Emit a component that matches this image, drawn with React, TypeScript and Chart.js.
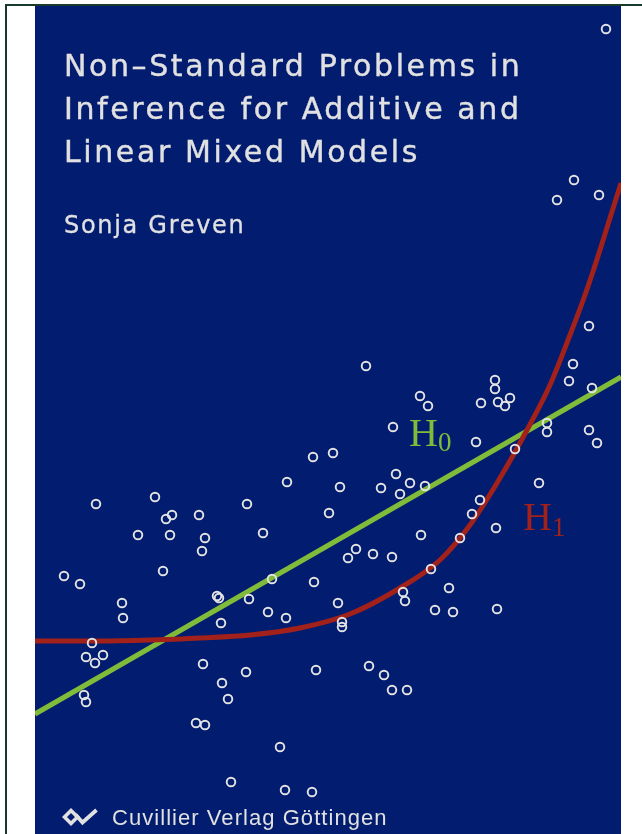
import React, { useEffect, useRef } from "react";
import { Chart, registerables } from "chart.js";

Chart.register(...registerables);

// ---- data (x: horizontal units, y: vertical units; 1 unit = 10 px of the cover panel) ----
const xRange = [0, 58.6];
const yRange = [0, 82.8];

const sampleX = [
  6.1, 12.0, 13.7, 13.1, 16.4, 21.2, 29.4, 10.3, 13.5, 17.0, 22.8, 16.7, 2.9, 4.5, 12.8, 8.7, 8.8,
  18.2, 18.4, 23.7, 27.9, 21.4, 23.3, 25.1, 18.6, 30.3, 5.7, 5.1, 6.8, 6.0, 4.9, 5.1, 16.8, 21.1,
  28.1, 18.7, 19.3, 16.1, 17.0, 24.5, 19.6, 25.0, 27.7, 30.7, 30.7, 33.1, 38.5, 39.3, 35.8, 46.0,
  46.0, 44.6, 46.3, 47.5, 47.0, 53.8, 53.4, 55.7, 51.2, 51.2, 55.4, 56.2, 44.1, 48.0, 27.8, 29.8,
  30.5, 36.1, 34.6, 37.5, 36.5, 39.0, 50.4, 44.5, 43.7, 46.1, 38.6, 42.5, 32.1, 31.3, 33.8, 35.7,
  39.6, 41.4, 36.8, 37.0, 40.0, 41.8, 46.2, 33.4, 34.9, 35.7, 37.2, 57.1, 53.9, 52.2, 56.4, 55.4,
  25.2,
];
const sampleY = [
  33.0, 33.7, 31.9, 31.5, 31.9, 33.0, 32.1, 29.9, 29.9, 29.6, 30.1, 28.3, 25.8, 25.0, 26.3, 23.1, 21.6,
  23.8, 23.6, 25.5, 25.2, 23.5, 22.2, 21.6, 21.1, 23.1, 19.1, 17.7, 17.9, 17.1, 13.9, 13.2, 17.0, 16.2,
  16.4, 15.1, 13.5, 11.1, 10.9, 8.7, 5.2, 4.4, 4.2, 21.2, 20.7, 46.8, 43.8, 42.8, 40.7, 45.4,
  44.5, 43.1, 43.2, 43.6, 42.8, 47.0, 45.3, 44.6, 41.1, 40.2, 40.4, 39.1, 39.2, 38.5, 37.7, 38.1,
  34.7, 36.0, 34.6, 35.1, 34.0, 34.8, 35.1, 33.4, 32.0, 30.6, 29.9, 29.6, 28.5, 27.6, 28.0, 27.7,
  26.5, 24.6, 24.2, 23.3, 22.4, 22.2, 22.5, 16.8, 15.9, 14.4, 14.4, 80.5, 65.4, 63.4, 63.9, 50.8,
  35.2,
];

// H0: straight line fit
const h0X = [0, 58.6];
const h0Y = [12.0, 45.7];

// H1: smooth curve fit
const h1X = [0, 6.5, 11.5, 16.5, 21.5, 26.5, 31.5, 36.5, 40.5, 43.5, 46.5, 49.2, 51.5, 53.5, 55.0, 56.5, 57.5, 58.6];
const h1Y = [19.3, 19.3, 19.4, 19.6, 19.9, 20.6, 22.0, 24.6, 27.4, 30.9, 35.6, 40.4, 44.9, 49.9, 53.9, 58.4, 61.6, 65.1];

const titleLines = ["Non–Standard Problems in", "Inference for Additive and", "Linear Mixed Models"];
const authorName = "Sonja Greven";
const publisherName = "Cuvillier Verlag Göttingen";
const h0Label = ["H", "0"];
const h1Label = ["H", "1"];

const BLUE = "#021c6f";
const FRAME = "#173a2c";
const GREEN = "#80bc3a";
const RED = "#a2211a";
const CIRCLE = "#e4e4e4";
const TEXT = "#e1e1e1";

const coverPlugin = {
  id: "coverBackground",
  beforeDraw(chart: any) {
    const { ctx, chartArea } = chart;
    ctx.save();
    ctx.fillStyle = "#ffffff";
    ctx.fillRect(0, 0, chart.width, chart.height);
    ctx.fillStyle = BLUE;
    ctx.fillRect(chartArea.left, chartArea.top, chartArea.right - chartArea.left, chartArea.bottom - chartArea.top);
    ctx.fillStyle = FRAME;
    ctx.fillRect(5, 4, chart.width - 5, 2);
    ctx.fillRect(5, 4, 2, chart.height - 4);
    ctx.restore();
  },
};

const toXY = (xs: number[], ys: number[]) => xs.map((x, i) => ({ x, y: ys[i] }));

export default function App() {
  const ref = useRef<HTMLCanvasElement | null>(null);

  useEffect(() => {
    if (!ref.current) return;
    const chart = new Chart(ref.current, {
      type: "scatter",
      data: {
        datasets: [
          {
            label: "data",
            data: toXY(sampleX, sampleY),
            pointRadius: 4.3,
            pointBorderWidth: 1.9,
            pointBorderColor: CIRCLE,
            pointBackgroundColor: "rgba(0,0,0,0)",
            showLine: false,
            order: 0,
          } as any,
          {
            label: "H1",
            data: toXY(h1X, h1Y),
            showLine: true,
            borderColor: RED,
            borderWidth: 5,
            pointRadius: 0,
            cubicInterpolationMode: "monotone",
            order: 1,
          } as any,
          {
            label: "H0",
            data: toXY(h0X, h0Y),
            showLine: true,
            borderColor: GREEN,
            borderWidth: 5,
            pointRadius: 0,
            order: 2,
          } as any,
        ],
      },
      options: {
        animation: false,
        responsive: false,
        events: [],
        layout: { autoPadding: false, padding: { left: 35, top: 6, right: 21, bottom: 0 } },
        plugins: { legend: { display: false }, tooltip: { enabled: false }, title: { display: false } },
        scales: {
          x: { type: "linear", min: xRange[0], max: xRange[1], display: false },
          y: { type: "linear", min: yRange[0], max: yRange[1], display: false },
        },
      } as any,
      plugins: [coverPlugin],
    });
    return () => chart.destroy();
  }, []);

  const titleFont = '"DejaVu Sans", Verdana, sans-serif';
  const serif = '"Liberation Serif", "Times New Roman", serif';

  return (
    <div style={{ position: "fixed", left: 0, top: 0, width: 642, height: 834, background: "#fff", overflow: "hidden" }}>
      <canvas ref={ref} width={642} height={834} style={{ position: "absolute", left: 0, top: 0, width: 642, height: 834 }} />
      <div
        style={{
          position: "absolute",
          left: 64,
          top: 44,
          fontFamily: titleFont,
          fontSize: 30,
          lineHeight: "43px",
          letterSpacing: "2.6px",
          color: TEXT,
          whiteSpace: "pre",
          WebkitTextStroke: "0.4px " + TEXT,
        }}
      >
        {titleLines.map((t, i) => (
          <div key={i}>{t}</div>
        ))}
      </div>
      <div
        style={{
          position: "absolute",
          left: 64,
          top: 213,
          fontFamily: titleFont,
          fontSize: 24,
          lineHeight: "24px",
          letterSpacing: "1.7px",
          color: TEXT,
          whiteSpace: "pre",
          WebkitTextStroke: "0.3px " + TEXT,
        }}
      >
        {authorName}
      </div>
      <svg width={40} height={24} viewBox="60 805 40 24" style={{ position: "absolute", left: 60, top: 805 }}>
        <path d="M64.5 817 L71 810.5 L77.5 817 L71 823.5 Z" fill="none" stroke={TEXT} strokeWidth={3.6} strokeLinejoin="miter" />
        <path d="M75.5 814.5 L82.5 822.5 L96.5 810" fill="none" stroke={TEXT} strokeWidth={3.8} strokeLinejoin="miter" />
      </svg>
      <div
        style={{
          position: "absolute",
          left: 112,
          top: 807,
          fontFamily: '"Liberation Sans", Arial, sans-serif',
          fontSize: 22,
          lineHeight: "22px",
          letterSpacing: "1.05px",
          color: TEXT,
          whiteSpace: "pre",
        }}
      >
        {publisherName}
      </div>
      <div
        style={{
          position: "absolute",
          left: 409,
          top: 413,
          fontFamily: serif,
          fontSize: 40,
          lineHeight: "40px",
          color: GREEN,
          whiteSpace: "pre",
        }}
      >
        {h0Label[0]}
        <span style={{ fontSize: 27, lineHeight: "1", position: "relative", top: 5 }}>{h0Label[1]}</span>
      </div>
      <div
        style={{
          position: "absolute",
          left: 523,
          top: 497,
          fontFamily: serif,
          fontSize: 40,
          lineHeight: "40px",
          color: RED,
          whiteSpace: "pre",
        }}
      >
        {h1Label[0]}
        <span style={{ fontSize: 27, lineHeight: "1", position: "relative", top: 6 }}>{h1Label[1]}</span>
      </div>
    </div>
  );
}
